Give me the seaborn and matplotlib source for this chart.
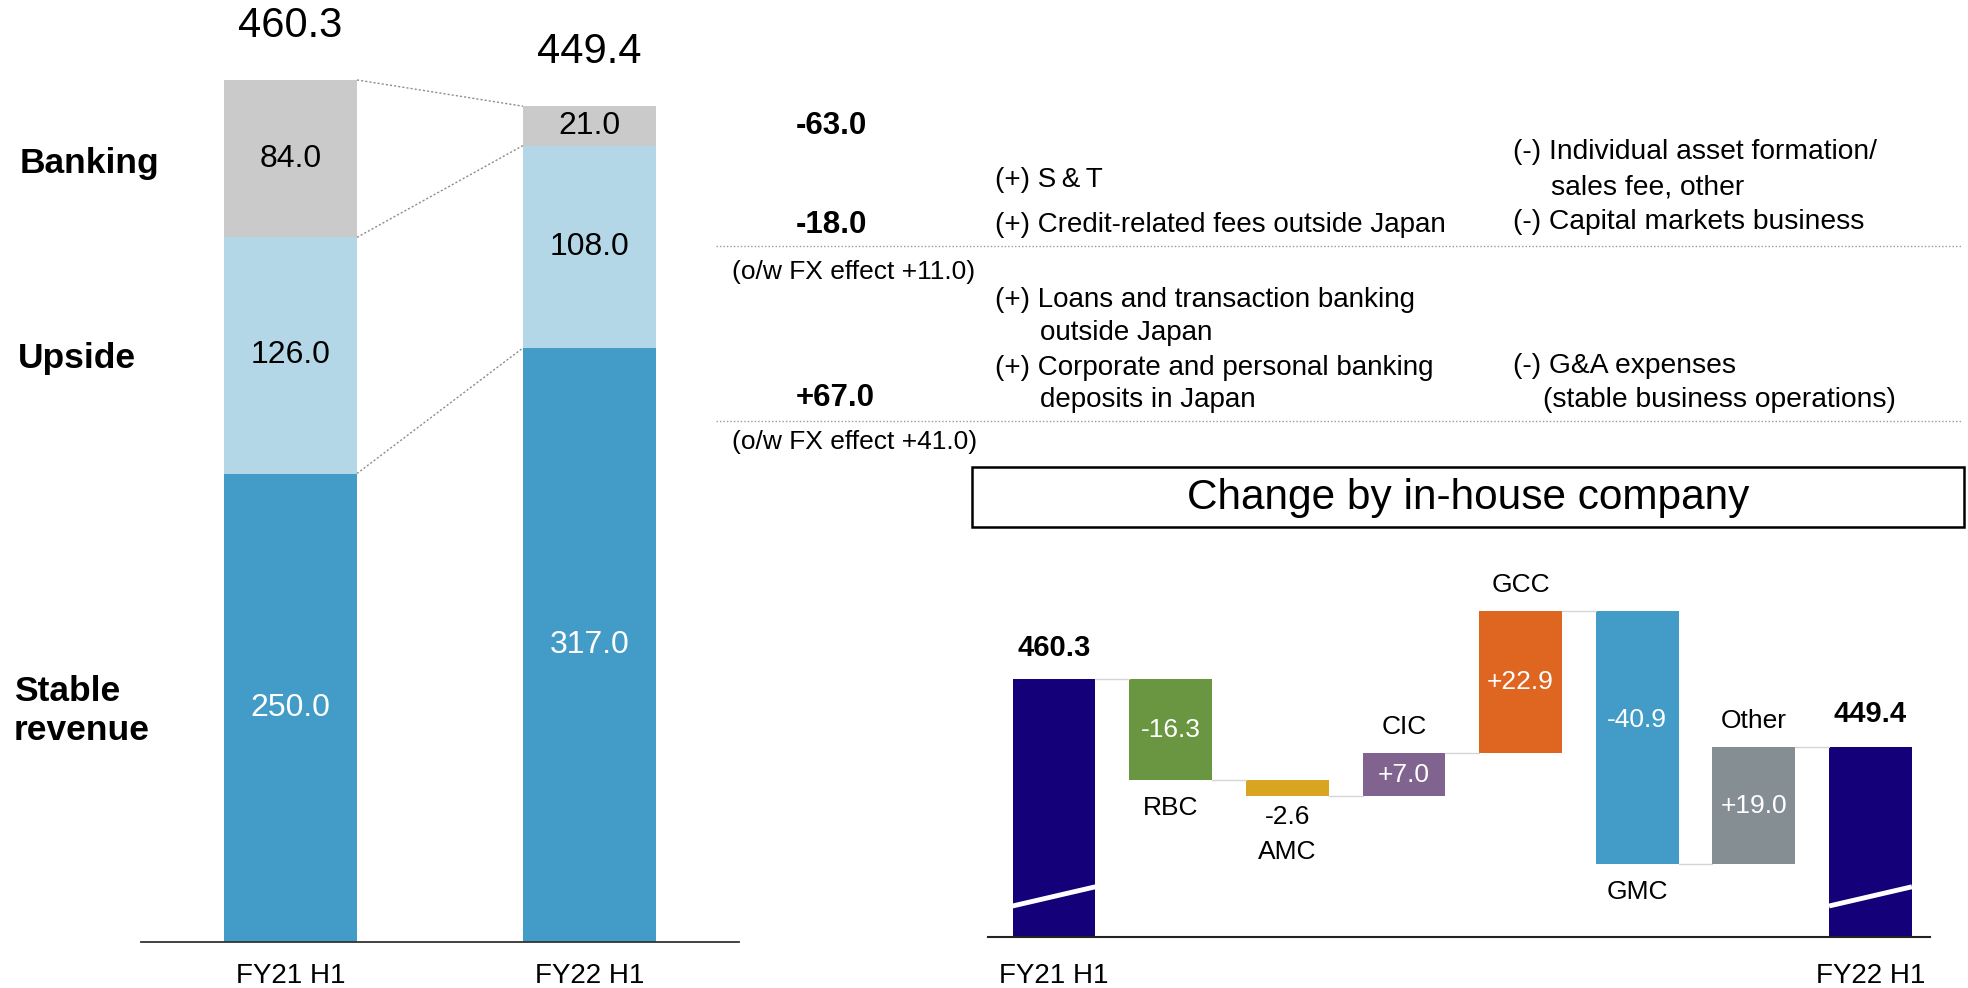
import matplotlib
matplotlib.use("Agg")
import matplotlib.pyplot as plt
import seaborn as sns
from matplotlib.patches import Rectangle
from matplotlib.lines import Line2D

# ---------------- data ----------------
periods = ["FY21 H1", "FY22 H1"]
stable_revenue = [250.0, 317.0]
upside = [126.0, 108.0]
banking = [84.0, 21.0]
period_totals = [460.3, 449.4]
segment_names = ["Banking", "Upside", "Stable\nrevenue"]

wf_labels = ["FY21 H1", "RBC", "AMC", "CIC", "GCC", "GMC", "Other", "FY22 H1"]
wf_start = 460.3
wf_changes = [-16.3, -2.6, 7.0, 22.9, -40.9, 19.0]
wf_end = 449.4

delta_values = ["-63.0", "-18.0", "+67.0"]
fx_notes = ["(o/w FX effect +11.0)", "(o/w FX effect +41.0)"]
plus_items = ["(+) S\u2009&\u2009T",
              "(+) Credit-related fees outside Japan",
              "(+) Loans and transaction banking",
              "outside Japan",
              "(+) Corporate and personal banking",
              "deposits in Japan"]
minus_items = ["(-) Individual asset formation/",
               "sales fee, other",
               "(-) Capital markets business",
               "(-) G&A expenses",
               "(stable business operations)"]
title_text = "Change by in-house company"

# ---------------- style ----------------
sns.set_style("white")
plt.rcParams["font.family"] = ["Liberation Sans", "DejaVu Sans"]
plt.rcParams["text.color"] = "black"
plt.rcParams["xtick.color"] = "black"
plt.rcParams["xtick.labelcolor"] = "black"

C_STABLE = "#439CC8"
C_UPSIDE = "#B4D7E8"
C_BANK = "#CACACA"
wf_colors = ["#140078", "#6A9642", "#D8A520", "#80638F", "#DE6620", "#439CC8", "#848E93", "#140078"]

W, H = 1968, 988
fig = plt.figure(figsize=(W / 100, H / 100), dpi=100)


def fx(x):
    return x / W


def fy(y):
    return 1 - y / H


PX = 0.72  # points per pixel

# ---------------- left stacked bars ----------------
ax1 = fig.add_axes([fx(141), fy(942), (739 - 141) / W, 500 * 1.874 / H])
bw = 0.445
cum_up = [s + u for s, u in zip(stable_revenue, upside)]
cum_tot = [c + b for c, b in zip(cum_up, banking)]
sns.barplot(x=periods, y=cum_tot, color=C_BANK, width=bw, linewidth=0,
            errorbar=None, saturation=1, ax=ax1)
sns.barplot(x=periods, y=cum_up, color=C_UPSIDE, width=bw, linewidth=0,
            errorbar=None, saturation=1, ax=ax1)
sns.barplot(x=periods, y=stable_revenue, color=C_STABLE, width=bw, linewidth=0,
            errorbar=None, saturation=1, ax=ax1)
ax1.set_xlim(-0.5, 1.5)
ax1.set_ylim(0, 500)
for sp in ["left", "right", "top"]:
    ax1.spines[sp].set_visible(False)
ax1.spines["bottom"].set_color("#333333")
ax1.spines["bottom"].set_linewidth(1.3)
ax1.set_yticks([])
ax1.set_xticks([0, 1])
ax1.set_xticklabels(periods, fontsize=20, color="black")
ax1.tick_params(axis="x", length=0, pad=15)
ax1.set_xlabel("")
ax1.set_ylabel("")

for i in range(2):
    ax1.text(i, stable_revenue[i] / 2, f"{stable_revenue[i]:.1f}", ha="center", va="center",
             fontsize=23, color="white")
    ax1.text(i, stable_revenue[i] + upside[i] / 2, f"{upside[i]:.1f}", ha="center", va="center",
             fontsize=23, color="black")
    ax1.text(i, cum_up[i] + banking[i] / 2, f"{banking[i]:.1f}", ha="center", va="center",
             fontsize=23, color="black")
    ax1.annotate(f"{period_totals[i]:.1f}", (i, cum_tot[i]), xytext=(0, 54 * PX),
                 textcoords="offset points", ha="center", va="center", fontsize=30,
                 color="black", annotation_clip=False)

levels0 = [stable_revenue[0], cum_up[0], cum_tot[0]]
levels1 = [stable_revenue[1], cum_up[1], cum_tot[1]]
for a, b in zip(levels0, levels1):
    ax1.plot([bw / 2, 1 - bw / 2], [a, b], color="#8C8C8C", lw=1, ls=(0, (1.5, 1.5)))

# segment names at left
name_y = [163, 358, 711]
name_x = [20, 18, 14]
for nm, x, y in zip(segment_names, name_x, name_y):
    fig.text(fx(x), fy(y), nm, ha="left", va="center", fontsize=25.5, fontweight="bold",
             linespacing=1.25, color="black")

# ---------------- middle text ----------------
for s, y in zip(delta_values, [126, 225, 398]):
    fig.text(fx(796), fy(y), s, ha="left", va="center", fontsize=22.5, fontweight="bold",
             color="black")
for s, y in zip(fx_notes, [272, 442]):
    fig.text(fx(732), fy(y), s, ha="left", va="center", fontsize=19, color="black")

plus_pos = [(995, 180), (995, 225), (995, 300), (1040, 333), (995, 368), (1040, 400)]
for s, (x, y) in zip(plus_items, plus_pos):
    fig.text(fx(x), fy(y), s, ha="left", va="center", fontsize=20, color="black")
minus_pos = [(1513, 152), (1551, 187), (1513, 222), (1513, 366), (1543, 400)]
for s, (x, y) in zip(minus_items, minus_pos):
    fig.text(fx(x), fy(y), s, ha="left", va="center", fontsize=20.3, color="black")

for y in [246, 421]:
    fig.add_artist(Line2D([fx(716), fx(1961)], [fy(y), fy(y)], color="#9A9A9A", lw=1,
                          ls=(0, (1, 1.5))))

# title box
fig.add_artist(Rectangle((fx(972), fy(527)), (1964 - 972) / W, 60 / H, fill=False,
                         edgecolor="black", lw=1.8))
fig.text(fx(1468), fy(498), title_text, ha="center", va="center", fontsize=30.5, color="black")

# ---------------- waterfall ----------------
ylo = 418.7
ax2 = fig.add_axes([fx(988), fy(937), (1930 - 988) / W, (937 - 560) / H])
bottoms, tops, levels = [0.0], [wf_start], [wf_start]
run = wf_start
for c in wf_changes:
    new = run + c
    bottoms.append(min(run, new))
    tops.append(max(run, new))
    run = new
    levels.append(run)
bottoms.append(0.0)
tops.append(wf_end)
heights = [t - b for t, b in zip(tops, bottoms)]

ww = 0.71
sns.barplot(x=wf_labels, y=heights, hue=wf_labels, palette=wf_colors, legend=False,
            width=ww, linewidth=0, errorbar=None, saturation=1, ax=ax2)
for p, b in zip(ax2.patches, bottoms):
    p.set_y(b)
ax2.set_xlim(-0.566, 7.51)
ax2.set_ylim(ylo, ylo + (937 - 560) / 6.2)
for sp in ["left", "right", "top"]:
    ax2.spines[sp].set_visible(False)
ax2.spines["bottom"].set_color("#222222")
ax2.spines["bottom"].set_linewidth(1.5)
ax2.set_yticks([])
ax2.set_xticks([0, 7])
ax2.set_xticklabels([wf_labels[0], wf_labels[-1]], fontsize=20, color="black")
ax2.tick_params(axis="x", length=0, pad=19)
ax2.set_xlabel("")
ax2.set_ylabel("")

# connectors
for i in range(len(wf_labels) - 1):
    lvl = levels[i] if i < len(levels) else wf_end
    ax2.plot([i + ww / 2, i + 1 - ww / 2], [lvl, lvl], color="#D5D5D5", lw=1)

# break slashes on total bars
for i in [0, 7]:
    ax2.plot([i - ww / 2, i + ww / 2], [ylo + 5.0, ylo + 8.1], color="white", lw=3.5,
             solid_capstyle="butt")

# totals
for i, v, off in [(0, wf_start, 31), (7, wf_end, 33)]:
    ax2.annotate(f"{v:.1f}", (i, v), xytext=(0, off * PX), textcoords="offset points",
                 ha="center", va="center", fontsize=21, fontweight="bold", color="black")

# change labels
inside_frac = [None, 0.5, None, 0.5, 0.5, 0.43, 0.5, None]
name_place = [None, "below", "below2", "above", "above", "below", "above", None]
for k, c in enumerate(wf_changes):
    i = k + 1
    txt = f"{c:+.1f}"
    if inside_frac[i] is not None:
        y = tops[i] - inside_frac[i] * heights[i]
        ax2.text(i, y, txt, ha="center", va="center", fontsize=19, color="white")
    else:
        ax2.annotate(txt, (i, bottoms[i]), xytext=(0, -21 * PX), textcoords="offset points",
                     ha="center", va="center", fontsize=19, color="black")
    if name_place[i] == "above":
        ax2.annotate(wf_labels[i], (i, tops[i]), xytext=(0, 26 * PX), textcoords="offset points",
                     ha="center", va="center", fontsize=19, color="black")
    elif name_place[i] == "below":
        ax2.annotate(wf_labels[i], (i, bottoms[i]), xytext=(0, -28 * PX), textcoords="offset points",
                     ha="center", va="center", fontsize=19, color="black")
    else:
        ax2.annotate(wf_labels[i], (i, bottoms[i]), xytext=(0, -56 * PX), textcoords="offset points",
                     ha="center", va="center", fontsize=19, color="black")

fig.savefig("out.png", dpi=100)
